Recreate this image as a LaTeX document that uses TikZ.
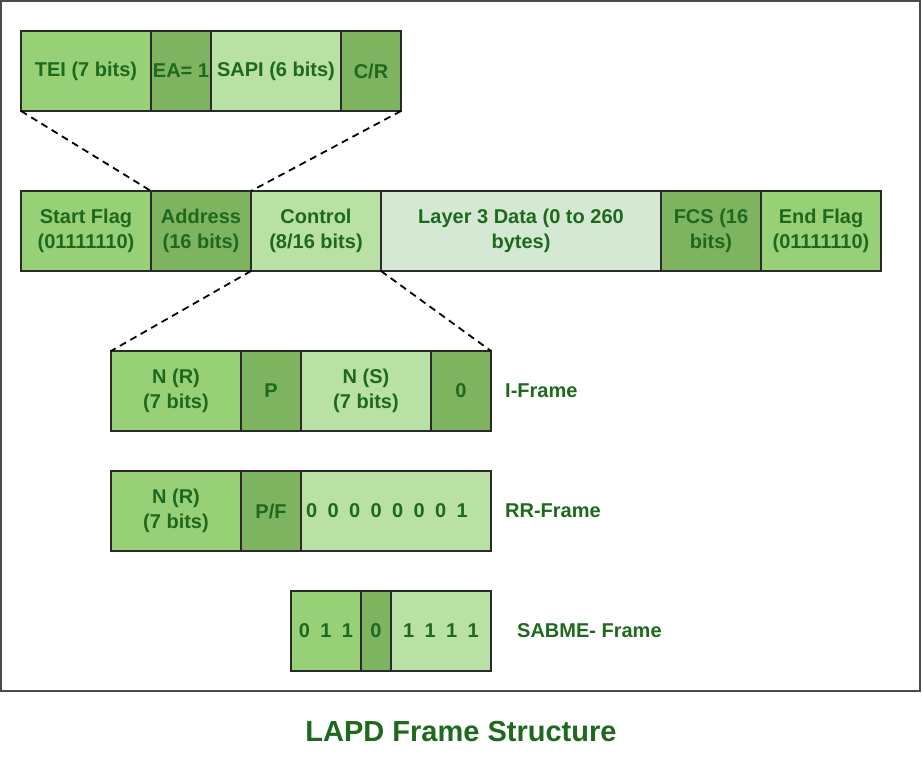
\documentclass[tikz,border=0pt]{standalone}
\usepackage{fontspec}
\setmainfont{Liberation Sans}
\definecolor{gA}{HTML}{97D077}
\definecolor{gB}{HTML}{7EB460}
\definecolor{gC}{HTML}{B9E0A5}
\definecolor{gD}{HTML}{D5E8D4}
\definecolor{txt}{RGB}{30,105,30}
\definecolor{edge}{HTML}{2A2A2A}
\newcommand{\dg}{\hspace{10.4pt}}
\tikzset{
  cell/.style={draw=edge, line width=1.6pt, anchor=north west, minimum height=80pt,
    inner sep=0pt, outer sep=0pt, align=center, text=txt,
    font=\bfseries\fontsize{20}{25}\selectfont},
  lbl/.style={text=txt, font=\bfseries\fontsize{20}{25}\selectfont, inner sep=0pt},
  zoomline/.style={draw=black, line width=1.8pt, dash pattern=on 7pt off 5pt}
}
\begin{document}
\begin{tikzpicture}[x=1pt,y=-1pt]
\useasboundingbox (0,0) rectangle (922,766);
\draw[draw=edge!85, line width=1.8pt] (1,1) rectangle (920,691);
% top row
\node[cell, fill=gA, minimum width=130pt] (tei) at (21,31) {TEI (7 bits)};
\node[cell, fill=gB, minimum width=60pt] (ea) at (151,31) {EA= 1};
\node[cell, fill=gC, minimum width=130pt] (sapi) at (211,31) {SAPI (6 bits)};
\node[cell, fill=gB, minimum width=60pt] (cr) at (341,31) {C/R};
% middle row
\node[cell, fill=gA, minimum width=130pt] (sf) at (21,191) {Start Flag\\(01111110)};
\node[cell, fill=gB, minimum width=100pt] (addr) at (151,191) {Address\\(16 bits)};
\node[cell, fill=gC, minimum width=130pt] (ctrl) at (251,191) {Control\\(8/16 bits)};
\node[cell, fill=gD, minimum width=280pt] (l3) at (381,191) {Layer 3 Data (0 to 260\\bytes)};
\node[cell, fill=gB, minimum width=100pt] (fcs) at (661,191) {FCS (16\\bits)};
\node[cell, fill=gA, minimum width=120pt] (ef) at (761,191) {End Flag\\(01111110)};
% I-frame
\node[cell, fill=gA, minimum width=130pt] (inr) at (111,351) {N (R)\\(7 bits)};
\node[cell, fill=gB, minimum width=60pt] (ip) at (241,351) {P};
\node[cell, fill=gC, minimum width=130pt] (ins) at (301,351) {N (S)\\(7 bits)};
\node[cell, fill=gB, minimum width=60pt] (izero) at (431,351) {0};
\node[lbl, anchor=west] (ilbl) at (505,391) {I-Frame};
% RR-frame
\node[cell, fill=gA, minimum width=130pt] (rnr) at (111,471) {N (R)\\(7 bits)};
\node[cell, fill=gB, minimum width=60pt] (rpf) at (241,471) {P/F};
\node[cell, fill=gC, minimum width=190pt] (rbits) at (301,471) {0\dg0\dg0\dg0\dg0\dg0\dg0\dg1\hspace*{18pt}};
\node[lbl, anchor=west] (rlbl) at (505,511) {RR-Frame};
% SABME
\node[cell, fill=gA, minimum width=70pt] (s1) at (291,591) {0\dg1\dg1};
\node[cell, fill=gB, minimum width=30pt] (s2) at (361,591) {0};
\node[cell, fill=gC, minimum width=100pt] (s3) at (391,591) {1\dg1\dg1\dg1};
\node[lbl, anchor=west] (slbl) at (517,631) {SABME- Frame};
% zoom lines
\draw[zoomline] (tei.south west) -- (addr.north west);
\draw[zoomline] (cr.south east) -- (addr.north east);
\draw[zoomline] (ctrl.south west) -- (inr.north west);
\draw[zoomline] (ctrl.south east) -- (izero.north east);
% title
\node[text=txt, font=\bfseries\fontsize{29}{34}\selectfont, inner sep=0pt] (title) at (461,732) {LAPD Frame Structure};
\end{tikzpicture}
\end{document}
